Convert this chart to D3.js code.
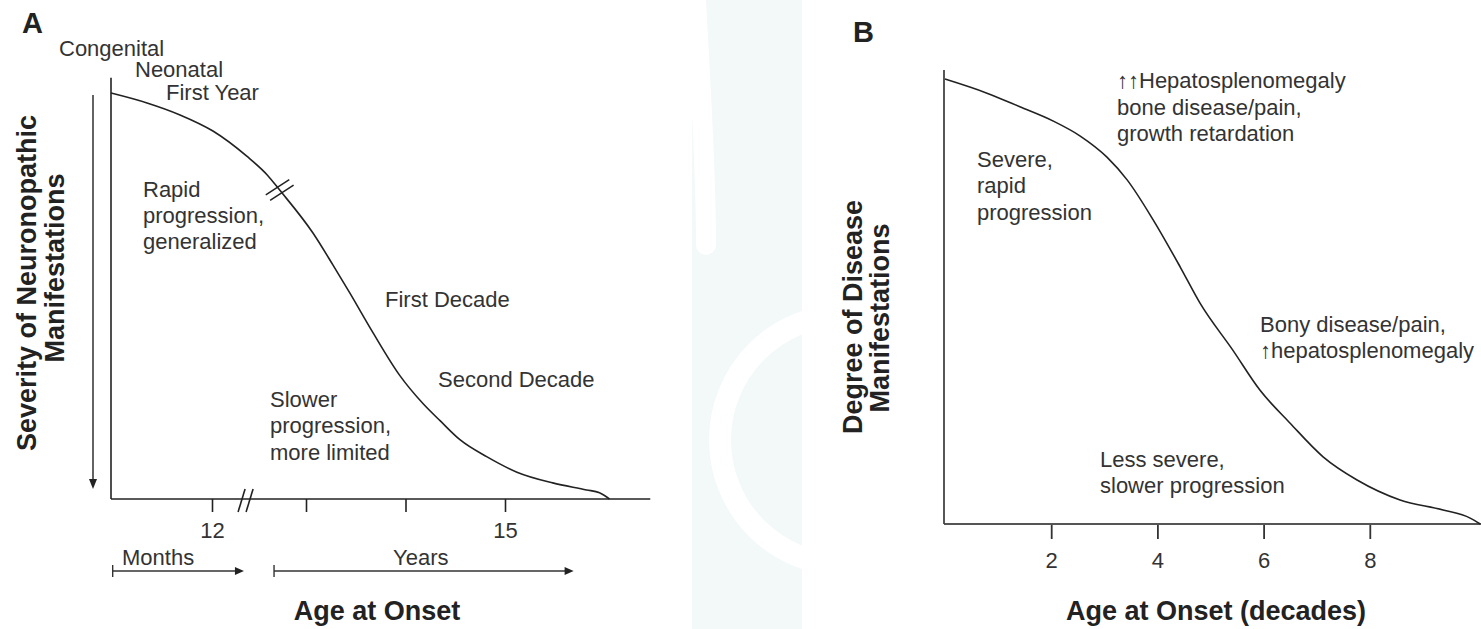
<!DOCTYPE html>
<meta charset="utf-8">
<style>
body { margin: 0; background: #fff; }
svg { display: block; }
.lbl { font-family: "Liberation Sans", Arial, sans-serif; font-size: 22px; fill: #333; }
.bold { font-family: "Liberation Sans", Arial, sans-serif; font-weight: bold; fill: #222; }
.curve { fill: none; stroke: #222; stroke-width: 1.6px; }
.tick text { font-family: "Liberation Sans", Arial, sans-serif; font-size: 22px; fill: #333; }
</style>
<body>
<script src="https://cdn.jsdelivr.net/npm/d3@7"></script>
<script>

// panel A: onset age (months up to 12, then years) vs severity (0-100)
var aAge = [0, 4.28, 8.2, 12.01, 12.37, 12.59, 12.72, 13.07, 13.27, 13.44, 13.67, 13.94, 14.18, 14.35, 14.55, 14.82, 15.12, 15.48, 15.82, 15.95, 16.05];
var aSeverity = [98.3, 95.9, 93.0, 89.1, 83.0, 78.4, 74.8, 64.4, 56.7, 49.9, 40.4, 30.0, 23.0, 18.9, 14.3, 10.2, 6.5, 3.9, 2.2, 1.5, 0];
var aTicks = [12, 13, 14, 15];
var aTickLabels = ["12", "", "", "15"];

// panel B: onset age (decades) vs degree of disease (0-100)
var bAge = [0, 0.79, 1.41, 2.03, 2.54, 3.05, 3.43, 3.92, 4.43, 4.80, 5.42, 5.93, 6.50, 7.12, 7.76, 8.57, 9.38, 9.89, 10.08];
var bDegree = [98.0, 94.9, 91.9, 88.8, 85.5, 80.8, 75.8, 67.0, 56.6, 48.7, 38.3, 29.5, 22.2, 14.8, 9.7, 5.3, 3.1, 1.3, 0];
var bTicks = [2, 4, 6, 8];

var W = 1481, H = 629;

var svg = d3.select("body").append("svg")
    .attr("width", W)
    .attr("height", H);

// faint watermark band between the panels
svg.append("rect")
    .attr("x", 692).attr("y", 0).attr("width", 110).attr("height", H)
    .attr("fill", "#f3f8f9");
svg.append("path")
    .attr("d", "M696,0 C700,80 706,160 706,245")
    .attr("stroke", "#fff").attr("stroke-width", 20).attr("stroke-linecap", "round").attr("fill", "none");
svg.append("clipPath").attr("id", "band")
  .append("rect").attr("x", 692).attr("y", 0).attr("width", 110).attr("height", H);
svg.append("circle")
    .attr("cx", 845).attr("cy", 440).attr("r", 125)
    .attr("stroke", "#fff").attr("stroke-width", 22).attr("fill", "none")
    .attr("clip-path", "url(#band)");

function addText(x, y, str, cls, anchor) {
  return svg.append("text")
      .attr("class", cls || "lbl")
      .attr("x", x).attr("y", y)
      .attr("text-anchor", anchor || "start")
      .text(str);
}

function arrowHead(g, x, y, dir) {
  // small filled triangle pointing right (dir="r") or down (dir="d")
  var p = dir === "r"
    ? [[x, y], [x - 9, y - 4], [x - 9, y + 4]]
    : [[x, y], [x - 4, y - 10], [x + 4, y - 10]];
  g.append("path").attr("d", "M" + p.join("L") + "Z").attr("fill", "#222");
}

// ---------- panel A ----------
var xA = d3.scaleLinear().domain([0, 12, 13, 15]).range([111, 212, 306, 505]);
var yA = d3.scaleLinear().domain([0, 100]).range([499, 86]);
var gA = svg.append("g");

gA.append("g")
    .attr("transform", "translate(0," + yA(0) + ")")
    .call(d3.axisBottom(xA).tickValues(aTicks)
      .tickFormat(function(d, i) { return aTickLabels[i]; })
      .tickSize(13).tickPadding(10).tickSizeOuter(0))
    .call(function(g) { g.select(".domain").remove(); })
    .call(function(g) { g.selectAll(".tick line").attr("stroke", "#222").attr("stroke-width", 1.6); })
    .call(function(g) { g.selectAll(".tick text").attr("font-size", null).attr("font-family", null); });

gA.append("line")
    .attr("x1", xA(0)).attr("x2", xA(16.46))
    .attr("y1", yA(0)).attr("y2", yA(0))
    .attr("stroke", "#222").attr("stroke-width", 1.6);
gA.append("line")
    .attr("x1", xA(0)).attr("x2", xA(0))
    .attr("y1", yA(0)).attr("y2", yA(102))
    .attr("stroke", "#222").attr("stroke-width", 1.6);

// axis break
[0, 8].forEach(function(off) {
  var bx = xA(12.32) + off;
  gA.append("line")
      .attr("x1", bx - 4).attr("y1", yA(0) + 13)
      .attr("x2", bx + 3).attr("y2", yA(0) - 10)
      .attr("stroke", "#222").attr("stroke-width", 1.6);
});

var lineA = d3.line()
    .x(function(d, i) { return xA(aAge[i]); })
    .y(function(d, i) { return yA(aSeverity[i]); })
    .curve(d3.curveMonotoneX);
gA.append("path").datum(aAge).attr("class", "curve").attr("d", lineA);

// break marks across the curve
var bi = 6;
var cx = xA(aAge[bi]), cy = yA(aSeverity[bi]);
var dx = xA(aAge[bi + 1]) - xA(aAge[bi - 1]), dy = yA(aSeverity[bi + 1]) - yA(aSeverity[bi - 1]);
var len = Math.sqrt(dx * dx + dy * dy);
var ux = dx / len, uy = dy / len;
var mx = Math.cos(-33 * Math.PI / 180), my = Math.sin(-33 * Math.PI / 180);
[-3.5, 3.5].forEach(function(o) {
  var px = cx + ux * o, py = cy + uy * o;
  gA.append("line")
      .attr("x1", px - mx * 14).attr("y1", py - my * 14)
      .attr("x2", px + mx * 14).attr("y2", py + my * 14)
      .attr("stroke", "#222").attr("stroke-width", 1.5);
});

// severity arrow
gA.append("line")
    .attr("x1", 93).attr("x2", 93).attr("y1", 95).attr("y2", 480)
    .attr("stroke", "#222").attr("stroke-width", 1.4);
arrowHead(gA, 93, 489, "d");

// months / years arrows
function spanArrow(g, x0, x1, y) {
  g.append("line").attr("x1", x0).attr("x2", x1 - 4).attr("y1", y).attr("y2", y)
      .attr("stroke", "#333").attr("stroke-width", 1.4);
  g.append("line").attr("x1", x0).attr("x2", x0).attr("y1", y - 6).attr("y2", y + 6)
      .attr("stroke", "#333").attr("stroke-width", 1.4);
  arrowHead(g, x1, y, "r");
}
spanArrow(gA, xA(0.2), xA(12.34), 571);
spanArrow(gA, xA(12.66), xA(15.69), 571);

addText(22, 33, "A", "bold").attr("font-size", 29);
addText(59, 56, "Congenital");
addText(135, 77, "Neonatal");
addText(166, 100, "First Year");
addText(143, 197, "Rapid");
addText(143, 223, "progression,");
addText(143, 249, "generalized");
addText(385, 307, "First Decade");
addText(438, 387, "Second Decade");
addText(270, 407, "Slower");
addText(270, 433, "progression,");
addText(270, 460, "more limited");
addText(122, 565, "Months");
addText(393, 565, "Years");
addText(377, 620, "Age at Onset", "bold", "middle").attr("font-size", 27);

svg.append("text").attr("class", "bold").attr("font-size", 27)
    .attr("text-anchor", "middle")
    .attr("transform", "translate(36,283) rotate(-90)")
    .text("Severity of Neuronopathic");
svg.append("text").attr("class", "bold").attr("font-size", 27)
    .attr("text-anchor", "middle")
    .attr("transform", "translate(64,268) rotate(-90)")
    .text("Manifestations");

// ---------- panel B ----------
var xB = d3.scaleLinear().domain([0, 10]).range([945, 1476]);
var yB = d3.scaleLinear().domain([0, 100]).range([524, 70]);
var gB = svg.append("g");

gB.append("g")
    .attr("transform", "translate(0," + yB(0) + ")")
    .call(d3.axisBottom(xB).tickValues(bTicks)
      .tickSize(15).tickPadding(13).tickSizeOuter(0))
    .call(function(g) { g.select(".domain").remove(); })
    .call(function(g) { g.selectAll(".tick line").attr("stroke", "#333").attr("stroke-width", 1.8); })
    .call(function(g) { g.selectAll(".tick text").attr("font-size", null).attr("font-family", null); });

gB.append("line")
    .attr("x1", xB(0) - 1).attr("x2", W)
    .attr("y1", yB(0)).attr("y2", yB(0))
    .attr("stroke", "#555").attr("stroke-width", 2.2);
gB.append("line")
    .attr("x1", xB(0) - 1).attr("x2", xB(0) - 1)
    .attr("y1", yB(0)).attr("y2", yB(100))
    .attr("stroke", "#444").attr("stroke-width", 1.8);

var lineB = d3.line()
    .x(function(d, i) { return xB(bAge[i]); })
    .y(function(d, i) { return yB(bDegree[i]); })
    .curve(d3.curveMonotoneX);
gB.append("path").datum(bAge).attr("class", "curve").attr("d", lineB);

addText(853, 42, "B", "bold").attr("font-size", 29);
addText(1117, 88, "\u2191\u2191Hepatosplenomegaly");
addText(1117, 115, "bone disease/pain,");
addText(1117, 141, "growth retardation");
addText(977, 167, "Severe,");
addText(977, 193, "rapid");
addText(977, 220, "progression");
addText(1260, 332, "Bony disease/pain,");
addText(1260, 358, "\u2191hepatosplenomegaly");
addText(1100, 467, "Less severe,");
addText(1100, 493, "slower progression");
addText(1216, 620, "Age at Onset (decades)", "bold", "middle").attr("font-size", 27);

svg.append("text").attr("class", "bold").attr("font-size", 27)
    .attr("text-anchor", "middle")
    .attr("transform", "translate(862,317) rotate(-90)")
    .text("Degree of Disease");
svg.append("text").attr("class", "bold").attr("font-size", 27)
    .attr("text-anchor", "middle")
    .attr("transform", "translate(889,318) rotate(-90)")
    .text("Manifestations");

</script>
</body>
</html>
